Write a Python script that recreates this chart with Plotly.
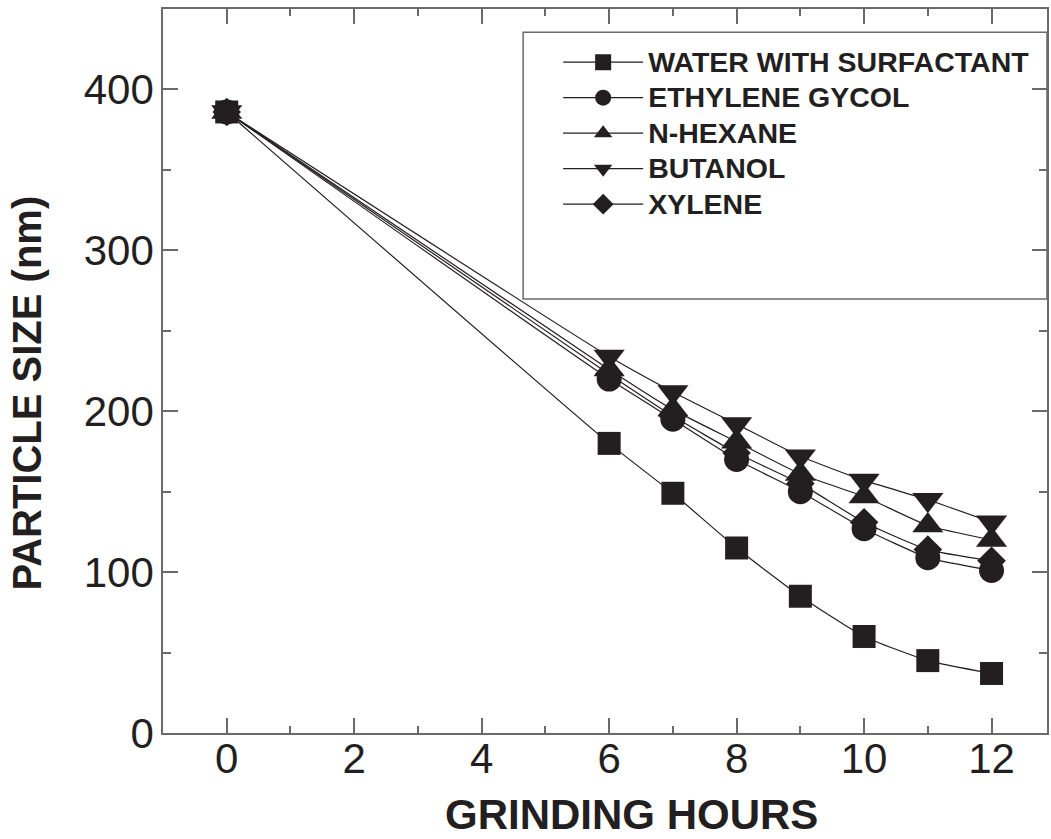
import plotly.graph_objects as go

# Grinding time (hours) and mean particle size (nm) for each milling medium
hours = [0, 6, 7, 8, 9, 10, 11, 12]
water_surfactant = [386, 180, 149, 115, 85, 60, 45, 37]
ethylene_glycol = [386, 220, 195, 170, 150, 127, 109, 101]
n_hexane = [386, 226, 201, 181, 161, 147, 129, 120]
butanol = [386, 234, 212, 192, 172, 157, 145, 131]
xylene = [386, 223, 197, 174, 155, 131, 114, 107]

series_names = ["WATER WITH SURFACTANT", "ETHYLENE GYCOL", "N-HEXANE", "BUTANOL", "XYLENE"]
series_values = [water_surfactant, ethylene_glycol, n_hexane, butanol, xylene]
symbols = ["square", "circle", "triangle-up", "triangle-down", "diamond"]
sizes = [23, 25, 27, 27, 22]

x_ticks = [0, 2, 4, 6, 8, 10, 12]
y_ticks = [0, 100, 200, 300, 400]

INK = "#231f20"
AXIS = "#6a6a6a"

fig = go.Figure()
for name, vals, sym, sz in zip(series_names, series_values, symbols, sizes):
    fig.add_trace(go.Scatter(
        x=hours, y=vals, mode="lines+markers",
        name='<span style="font-size:28.5px"><b>%s</b></span>' % name,
        line=dict(color=INK, width=1.2, shape="spline", smoothing=0.5),
        marker=dict(symbol=sym, size=sz, color=INK, line=dict(width=0)),
    ))

axis_common = dict(
    showline=True, linecolor=AXIS, linewidth=1.5, mirror="ticks",
    ticks="inside", tickcolor=AXIS, tickwidth=1.5, ticklen=15,
    showgrid=False, zeroline=False,
)

fig.update_xaxes(
    range=[-1, 12.87], tickvals=x_ticks, ticktext=[str(v) for v in x_ticks],
    tickfont=dict(family="Liberation Sans, Arial", size=42, color=INK),
    ticklabelstandoff=-12,
    minor=dict(ticks="inside", ticklen=7, tickcolor=AXIS, tickwidth=1.5, dtick=1, tick0=1),
    **axis_common,
)
fig.update_yaxes(
    range=[0, 450], tickvals=y_ticks, ticktext=[str(v) for v in y_ticks],
    tickfont=dict(family="Liberation Sans, Arial", size=42, color=INK),
    ticklabelstandoff=-1,
    minor=dict(ticks="inside", ticklen=8, tickcolor=AXIS, tickwidth=1.5, dtick=50, tick0=50),
    **axis_common,
)

# Legend frame
fig.add_shape(type="rect", xref="paper", yref="paper",
              x0=0.4074, x1=1.0, y0=0.5994, y1=0.968,
              line=dict(color=AXIS, width=1.5), fillcolor="rgba(0,0,0,0)", layer="below")

# Axis titles
fig.add_annotation(text="<b>GRINDING HOURS</b>", xref="paper", yref="paper",
                   x=0.53, y=-0.112, xanchor="center", yanchor="middle", showarrow=False,
                   font=dict(family="Liberation Sans, Arial", size=42, color=INK))
fig.add_annotation(text="<b>PARTICLE SIZE (nm)</b>", xref="paper", yref="paper",
                   x=-0.154, y=0.47, xanchor="center", yanchor="middle", showarrow=False,
                   textangle=-90,
                   font=dict(family="Liberation Sans, Arial", size=40, color=INK))

fig.update_layout(
    width=1051, height=839,
    margin=dict(l=163, r=2, t=9, b=106),
    paper_bgcolor="white", plot_bgcolor="white",
    showlegend=True,
    legend=dict(
        x=0.447, y=0.958, xanchor="left", yanchor="top",
        bgcolor="rgba(0,0,0,0)", borderwidth=0,
        font=dict(family="Liberation Sans, Arial", size=25, color=INK),
        itemwidth=80, traceorder="normal",
    ),
)

fig.write_html("out.html")
